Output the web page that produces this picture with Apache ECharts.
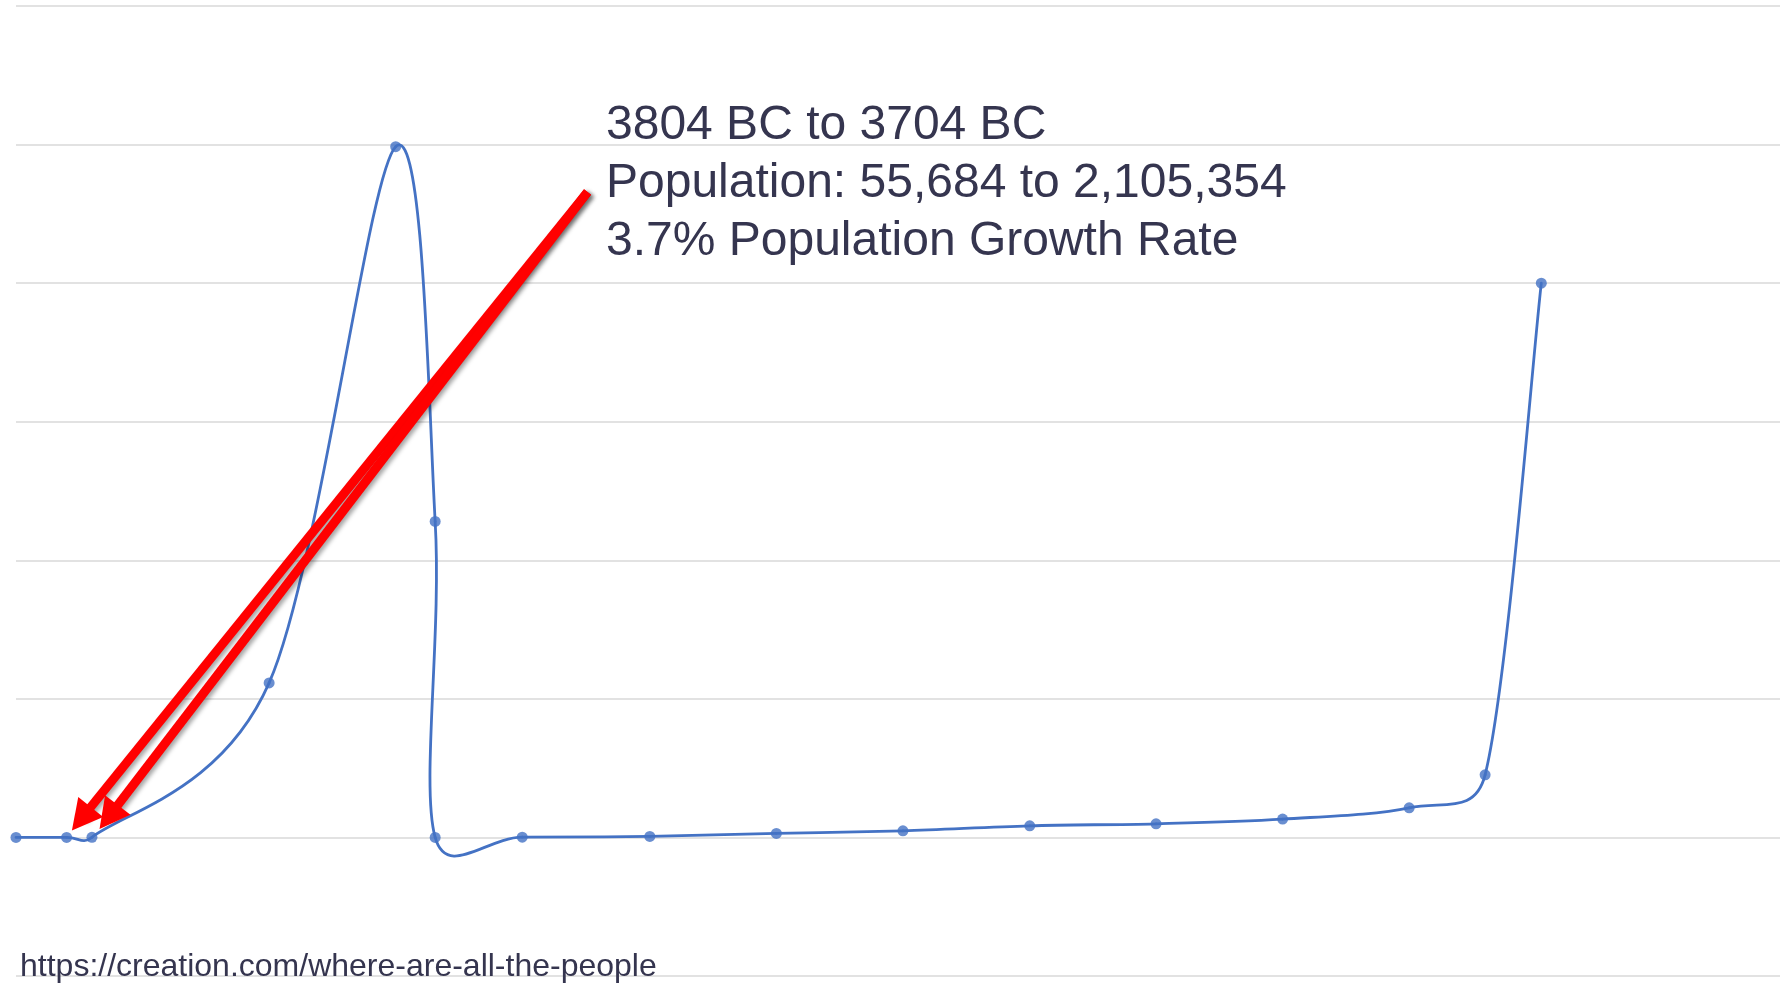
<!DOCTYPE html>
<html>
<head>
<meta charset="utf-8">
<script src="https://cdn.jsdelivr.net/npm/echarts@6/dist/echarts.min.js"></script>
<style>
  html, body { margin: 0; padding: 0; background: #ffffff; }
  #chart { width: 1780px; height: 983px; }
</style>
</head>
<body>
<div id="chart"></div>
<script>
// ---- data (years; population in billions) ----
const years = [-4004, -3804, -3704, -3004, -2504, -2348, -2348, -2004, -1500, -1000, -500, 1, 500, 1000, 1500, 1800, 2022];
const population = [0.000000002, 0.000055684, 0.002105354, 2.23, 9.97, 4.56, 0.000000008, 0.003, 0.014, 0.058, 0.096, 0.168, 0.197, 0.265, 0.428, 0.904, 8.0];

const yTicks = [-2, 0, 2, 4, 6, 8, 10, 12];

const annotationLines = ['3804 BC to 3704 BC', 'Population: 55,684 to 2,105,354', '3.7% Population Growth Rate'];
const sourceText = 'https://creation.com/where-are-all-the-people';

// arrow annotation endpoints in data coordinates (start -> end)
const arrowStart = [-1746, 9.315];
const arrowEnds = [[-3746, 0.27], [-3638, 0.295]];

const points = years.map((y, i) => [y, population[i]]);

// Excel-style smoothing (Bezier through points, computed in pixel space)
function excelSegments(pts) {
  const n = pts.length, out = [];
  const dist = (a, b) => Math.hypot(a[0] - b[0], a[1] - b[1]);
  for (let i = 0; i < n - 1; i++) {
    const p0 = pts[i > 0 ? i - 1 : i], p1 = pts[i], p2 = pts[i + 1], p3 = pts[i + 2 < n ? i + 2 : i + 1];
    const d02 = dist(p0, p2), d12 = dist(p1, p2), d13 = dist(p1, p3);
    let f1 = 1 / 6, f2 = 1 / 6;
    if (!((d02 / 6 < d12 / 2) && (d13 / 6 < d12 / 2))) {
      f1 = (d02 / 6 >= d12 / 2 && d02 > 0) ? d12 / d02 / 2 : 1 / 6;
      f2 = (d13 / 6 >= d12 / 2 && d13 > 0) ? d12 / d13 / 2 : 1 / 6;
    }
    out.push({
      x1: p1[0], y1: p1[1],
      cpx1: p1[0] + (p2[0] - p0[0]) * f1, cpy1: p1[1] + (p2[1] - p0[1]) * f1,
      cpx2: p2[0] - (p3[0] - p1[0]) * f2, cpy2: p2[1] - (p3[1] - p1[1]) * f2,
      x2: p2[0], y2: p2[1]
    });
  }
  return out;
}

const chart = echarts.init(document.getElementById('chart'), null, { renderer: 'canvas' });
const FONT = '"Liberation Sans", Arial, sans-serif';
const TEXT_COLOR = '#35354f';

const option = {
  animation: false,
  backgroundColor: '#ffffff',
  grid: { left: 16, right: 0, top: 6, bottom: 7, containLabel: false },
  xAxis: {
    type: 'value', min: -4004, max: 2965,
    axisLine: { show: false }, axisTick: { show: false }, axisLabel: { show: false },
    splitLine: { show: false }
  },
  yAxis: {
    type: 'value', min: yTicks[0], max: yTicks[yTicks.length - 1], interval: 2,
    axisLine: { show: false }, axisTick: { show: false }, axisLabel: { show: false },
    splitLine: { show: true, lineStyle: { color: '#d9d9d9', width: 1.5 } }
  },
  series: [
    {
      type: 'custom',
      name: 'curve',
      coordinateSystem: 'cartesian2d',
      clip: false,
      silent: true,
      z: 2,
      data: [points[0]],
      encode: { x: 0, y: 1 },
      renderItem: function (params, api) {
        const px = points.map(p => api.coord(p));
        const segs = excelSegments(px);
        return {
          type: 'group',
          children: segs.map(s => ({
            type: 'bezierCurve',
            shape: s,
            style: { stroke: '#4472C4', lineWidth: 2.8, fill: null, lineCap: 'round' }
          }))
        };
      }
    },
    {
      type: 'scatter',
      name: 'points',
      data: points,
      symbol: 'circle',
      symbolSize: 11,
      z: 3,
      silent: true,
      itemStyle: { color: '#4472C4' },
      markLine: {
        silent: true,
        animation: false,
        symbol: ['none', 'triangle'],
        symbolSize: [32, 30],
        label: { show: false },
        lineStyle: {
          color: '#ff0000', width: 9, type: 'solid', cap: 'butt',
          shadowColor: 'rgba(0,0,0,0.35)', shadowBlur: 4, shadowOffsetX: 3, shadowOffsetY: 2
        },
        itemStyle: { color: '#ff0000' },
        emphasis: { disabled: true },
        data: arrowEnds.map(e => [{ coord: arrowStart }, { coord: e }])
      }
    }
  ],
  graphic: [
    ...annotationLines.map((t, i) => ({
      type: 'text', left: 606, top: 102 + i * 58, z: 10, silent: true,
      style: { text: t, fill: TEXT_COLOR, font: '48px ' + FONT }
    })),
    {
      type: 'text', left: 20, top: 951, z: 10, silent: true,
      style: { text: sourceText, fill: TEXT_COLOR, font: '32px ' + FONT }
    }
  ]
};
chart.setOption(option);
</script>
</body>
</html>
